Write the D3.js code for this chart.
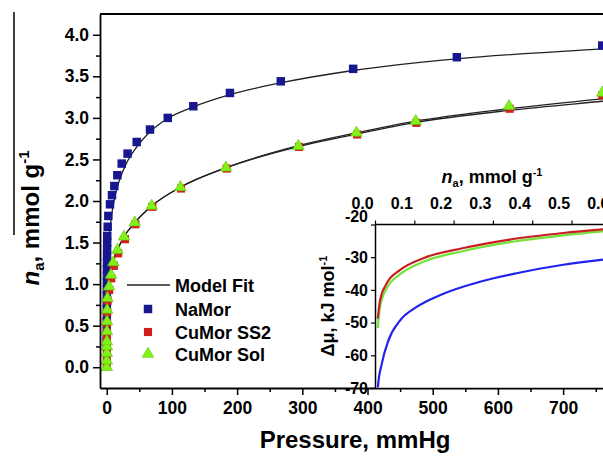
<!DOCTYPE html>
<html><head><meta charset="utf-8">
<script src="https://cdn.jsdelivr.net/npm/d3@7/dist/d3.min.js"></script>
<style>
body{margin:0;background:#fff}
svg{display:block}
text{font-family:"Liberation Sans",Arial,Helvetica,sans-serif;font-weight:bold;fill:#000}
</style>
</head><body>
<svg id="c" width="603" height="457"></svg>
<script>
// ---------- main plot data (Pressure mmHg, n_a mmol/g) ----------
const P_NA = [0.02,0.04,0.06,0.08,0.1,0.12,0.15,0.18,0.21,0.25,0.3,0.35,0.4,0.5,0.6,0.7,0.85,1.5,2.5,5,8.1,11.7,16.3,23,32,46,66.4,93.6,132.8,189,267,378,537,760];
const N_NA = [0.3,0.38,0.46,0.54,0.62,0.7,0.78,0.86,0.94,1.02,1.1,1.18,1.26,1.34,1.42,1.5,1.58,1.69,1.82,1.96,2.07,2.18,2.31,2.45,2.57,2.71,2.86,3.0,3.14,3.3,3.44,3.59,3.73,3.87];

const P_SS2 = [0.05,0.1,0.15,0.2,0.3,0.4,0.5,0.8,1.4,3.8,7,11,17.5,28,44,70,114,184,295,384,475,618,760];
const N_SS2 = [0.02,0.1,0.19,0.24,0.33,0.42,0.53,0.66,0.80,0.93,1.07,1.22,1.37,1.54,1.72,1.93,2.15,2.39,2.65,2.80,2.94,3.11,3.27];

const P_SOL = [0.05,0.1,0.15,0.2,0.3,0.4,0.5,0.7,1.2,3.5,6.5,10,16.5,26.5,43,69,113,183,294,383,474,617,760];
const N_SOL = [0.0,0.08,0.17,0.25,0.31,0.43,0.55,0.69,0.83,0.97,1.11,1.26,1.41,1.57,1.74,1.94,2.165,2.40,2.66,2.82,2.96,3.14,3.30];

// model fits
const P_FIT_NA = [0,0.3,1,2,4,7,10,15,20,30,45,66,93,132,189,266,378,536,760,800];
const N_FIT_NA = [0,0.6,1.0,1.3,1.57,1.8,1.95,2.13,2.26,2.45,2.64,2.83,2.99,3.13,3.28,3.42,3.57,3.71,3.83,3.85];
const P_FIT_CU = [0,0.3,1,2,3.5,6.5,10,16.5,26.5,43,69,113,183,294,383,474,617,760,800];
const N_FIT_SS2 = [0,0.35,0.7,0.87,0.98,1.12,1.26,1.41,1.57,1.74,1.94,2.165,2.40,2.655,2.805,2.945,3.09,3.20,3.23];
const N_FIT_SOL = [0,0.35,0.7,0.87,0.98,1.12,1.26,1.41,1.57,1.74,1.94,2.165,2.40,2.665,2.82,2.96,3.11,3.23,3.26];

const X_TICKS = [0,100,200,300,400,500,600,700];
const X_MINOR = [50,150,250,350,450,550,650,750];
const Y_TICKS = [0,0.5,1,1.5,2,2.5,3,3.5,4];
const Y_MINOR = [0.25,0.75,1.25,1.75,2.25,2.75,3.25,3.75];

const LEGEND = ["Model Fit","NaMor","CuMor SS2","CuMor Sol"];

// ---------- inset data (n_a mmol/g, delta mu kJ/mol) ----------
const U_NA = [0.005,0.007,0.017,0.034,0.064,0.106,0.165,0.267,0.36,0.479,0.6];
const V_NA = [-76,-70.1,-62.7,-55.5,-49.3,-45.2,-41.6,-37.5,-34.9,-32.3,-30.5];
const U_CU = [0.007,0.013,0.03,0.064,0.123,0.225,0.343,0.479,0.6];
const V_SS2 = [-48.8,-43.1,-38,-33.9,-30.3,-27.2,-24.6,-22.6,-21.3];
const V_SOL = [-51.7,-45,-39.5,-35.2,-31.4,-28.1,-25.4,-23.3,-21.9];
const INSET_X_TICKS = [0,0.1,0.2,0.3,0.4,0.5,0.6];
const INSET_Y_TICKS = [-20,-30,-40,-50,-60,-70];

const C_NA = "#17178f", C_SS2 = "#d11f1f", C_SOL = "#80f21a";
const C_IN_NA = "#2222ee", C_IN_SS2 = "#c81e1e", C_IN_SOL = "#72e23a";

const svg = d3.select("#c");

// scales
const x = d3.scaleLinear().domain([-10.3, 800]).range([100, 100 + 810.3*0.652]);
const y = d3.scaleLinear().domain([-0.25, 4.25]).range([388, 14]);

// stray vertical line at far left
svg.append("line").attr("x1",14).attr("x2",14).attr("y1",12).attr("y2",235)
  .attr("stroke","#000").attr("stroke-width",1.5);

// top frame
svg.append("line").attr("x1",100).attr("x2",603).attr("y1",14).attr("y2",14)
  .attr("stroke","#000").attr("stroke-width",1.8);

// fit lines
const line = (px, ny) => d3.line().curve(d3.curveMonotoneX)
  .x((d,i)=>x(px[i])).y((d,i)=>y(ny[i]))(px);
const fits = [[P_FIT_NA,N_FIT_NA],[P_FIT_CU,N_FIT_SS2],[P_FIT_CU,N_FIT_SOL]];
svg.append("g").selectAll("path").data(fits).join("path")
  .attr("d", d=>line(d[0],d[1])).attr("fill","none")
  .attr("stroke","#222").attr("stroke-width",1.3);

// markers
const sq = d3.symbol().type(d3.symbolSquare).size(72)();
const sqR = d3.symbol().type(d3.symbolSquare).size(66)();
const tri = d3.symbol().type(d3.symbolTriangle).size(58)();
svg.append("g").selectAll("path").data(P_NA).join("path")
  .attr("d",sq).attr("transform",(d,i)=>`translate(${x(d)},${y(N_NA[i])})`)
  .attr("fill",C_NA);
svg.append("g").selectAll("path").data(P_SS2).join("path")
  .attr("d",sqR).attr("transform",(d,i)=>`translate(${x(d)},${y(N_SS2[i])})`)
  .attr("fill",C_SS2);
svg.append("g").selectAll("path").data(P_SOL).join("path")
  .attr("d",tri).attr("transform",(d,i)=>`translate(${x(d)},${y(N_SOL[i])})`)
  .attr("fill",C_SOL).attr("stroke","#5cc800").attr("stroke-width",0.6);

// axes
const fs = "17.5px";
const gx = svg.append("g").attr("transform","translate(0,388)")
  .call(d3.axisBottom(x).tickValues(X_TICKS).tickFormat(d=>String(d)).tickSize(7).tickSizeOuter(0).tickPadding(7));
svg.append("g").attr("transform","translate(0,388)")
  .call(d3.axisBottom(x).tickValues(X_MINOR).tickFormat("").tickSize(4).tickSizeOuter(0))
  .select(".domain").remove();
const gy = svg.append("g").attr("transform","translate(100,0)")
  .call(d3.axisLeft(y).tickValues(Y_TICKS).tickFormat(d=>d.toFixed(1)).tickSize(7).tickSizeOuter(0).tickPadding(4));
svg.append("g").attr("transform","translate(100,0)")
  .call(d3.axisLeft(y).tickValues(Y_MINOR).tickFormat("").tickSize(4).tickSizeOuter(0))
  .select(".domain").remove();
svg.selectAll(".domain").attr("stroke","#000").attr("stroke-width",1.8);
svg.selectAll(".tick line").attr("stroke","#000").attr("stroke-width",1.5);
gx.selectAll("text").style("font-size",fs).attr("fill","#000");
gy.selectAll("text").style("font-size",fs).attr("fill","#000");

// axis titles
svg.append("text").attr("x",355).attr("y",448).attr("text-anchor","middle")
  .style("font-size","24px").text("Pressure, mmHg");
const yt = svg.append("text").attr("transform","translate(39,218) rotate(-90)")
  .attr("text-anchor","middle").style("font-size","24px");
yt.append("tspan").style("font-style","italic").text("n");
yt.append("tspan").attr("dy",5).style("font-size","15px").text("a");
yt.append("tspan").attr("dy",-5).text(", mmol g");
yt.append("tspan").attr("dy",-10).style("font-size","15px").text("-1");

// legend
const lg = svg.append("g");
const rowY = [285, 309, 332, 354];
lg.append("line").attr("x1",127).attr("x2",170).attr("y1",rowY[0]).attr("y2",rowY[0])
  .attr("stroke","#222").attr("stroke-width",1.5);
lg.append("path").attr("d",sq).attr("transform",`translate(148,${rowY[1]})`).attr("fill",C_NA);
lg.append("path").attr("d",sqR).attr("transform",`translate(148,${rowY[2]})`).attr("fill",C_SS2);
lg.append("path").attr("d",tri).attr("transform",`translate(148,${rowY[3]})`).attr("fill",C_SOL)
  .attr("stroke","#5cc800").attr("stroke-width",0.6);
lg.selectAll("text").data(LEGEND).join("text")
  .attr("x",175).attr("y",(d,i)=>rowY[i]+6.5).style("font-size","18px").text(d=>d);

// ---------- inset ----------
const ix = d3.scaleLinear().domain([0,0.6]).range([375, 375+235.8]);
const iy = d3.scaleLinear().domain([-70,-20]).range([388, 224.5]);
svg.append("rect").attr("x",375).attr("y",224.5).attr("width",240).attr("height",163)
  .attr("fill","#fff");
svg.append("defs").append("clipPath").attr("id","ic").append("rect")
  .attr("x",376).attr("y",224.5).attr("width",240).attr("height",163);

const iline = (u, v) => d3.line().curve(d3.curveMonotoneX)
  .x((d,i)=>ix(u[i])).y((d,i)=>iy(v[i]))(u);
const ins = [[U_NA,V_NA,C_IN_NA],[U_CU,V_SOL,C_IN_SOL],[U_CU,V_SS2,C_IN_SS2]];
svg.append("g").attr("clip-path","url(#ic)").selectAll("path").data(ins).join("path")
  .attr("d",d=>iline(d[0],d[1])).attr("fill","none")
  .attr("stroke",d=>d[2]).attr("stroke-width",2.2);

const gix = svg.append("g").attr("transform","translate(0,224.5)")
  .call(d3.axisTop(ix).tickValues(INSET_X_TICKS).tickFormat(d=>d.toFixed(1)).tickSize(4).tickSizeOuter(0).tickPadding(12));
gix.selectAll("text").attr("dx",-13).style("font-size","16px").attr("fill","#000");
gix.select(".domain").attr("d","M375,0H620");
const giy = svg.append("g").attr("transform","translate(375,0)")
  .call(d3.axisLeft(iy).tickValues(INSET_Y_TICKS).tickFormat(d=>String(d)).tickSize(4).tickSizeOuter(0).tickPadding(3));
giy.selectAll("text").style("font-size","16px").attr("fill","#000")
  .attr("y",d=> d===-20 ? -8.5 : 0);
[gix,giy].forEach(g=>{
  g.select(".domain").attr("stroke","#000").attr("stroke-width",1.5);
  g.selectAll(".tick line").attr("stroke","#000").attr("stroke-width",1.2);
});

// inset titles
const it = svg.append("text").attr("x",492).attr("y",183).attr("text-anchor","middle")
  .style("font-size","18px");
it.append("tspan").style("font-style","italic").text("n");
it.append("tspan").attr("dy",4).style("font-size","11px").text("a");
it.append("tspan").attr("dy",-4).text(", mmol g");
it.append("tspan").attr("dy",-7).style("font-size","11px").text("-1");

const iyt = svg.append("text").attr("transform","translate(334,306) rotate(-90)")
  .attr("text-anchor","middle").style("font-size","18px");
iyt.append("tspan").text("\u0394\u03bc, kJ mol");
iyt.append("tspan").attr("dy",-7).style("font-size","11px").text("-1");
</script>
</body></html>
